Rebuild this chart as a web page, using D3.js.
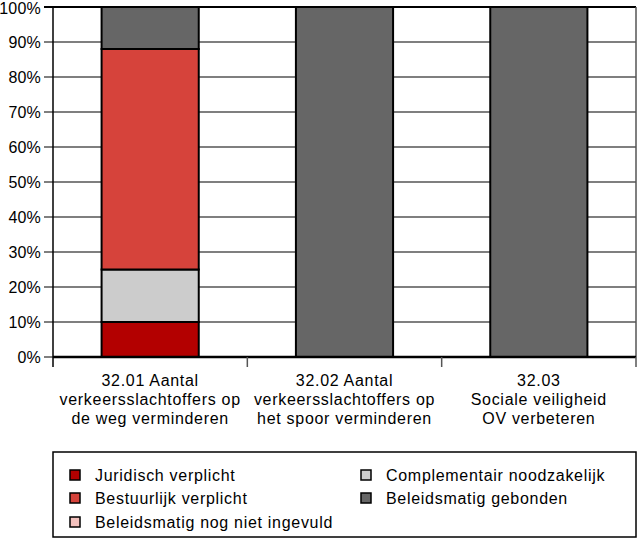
<!DOCTYPE html>
<html><head><meta charset="utf-8">
<script src="https://cdn.jsdelivr.net/npm/d3@7"></script>
<style>body{margin:0;background:#fff}svg{display:block;font-family:"Liberation Sans",Arial,sans-serif}text{letter-spacing:0.7px}text.yl{letter-spacing:0.2px}</style>
</head><body>
<svg id="c" width="638" height="549"></svg>
<script>
const categories = [
  ["32.01 Aantal","verkeersslachtoffers op","de weg verminderen"],
  ["32.02 Aantal","verkeersslachtoffers op","het spoor verminderen"],
  ["32.03","Sociale veiligheid","OV verbeteren"]
];
const seriesNames = ["Juridisch verplicht","Complementair noodzakelijk","Bestuurlijk verplicht","Beleidsmatig nog niet ingevuld","Beleidsmatig gebonden"];
const seriesColors = ["#b30000","#cccccc","#d6433b","#f3c1bd","#666666"];
const juridisch = [10,0,0];
const complementair = [15,0,0];
const bestuurlijk = [63,0,0];
const nogNiet = [0,0,0];
const gebonden = [12,100,100];
const yTicks = [0,10,20,30,40,50,60,70,80,90,100];
const legendOrder = [0,2,3,1,4];

const svg = d3.select("#c");
const L=53,R=636,T=7,B=357;
const x = d3.scaleBand().domain(d3.range(categories.length)).range([L,R]).paddingInner(0.5).paddingOuter(0.25);
const xb = d3.scaleBand().domain(d3.range(categories.length)).range([L,R]);
const y = d3.scaleLinear().domain([0,100]).range([B,T]);
const FS = 16;

// gridlines
svg.append("g").selectAll("line").data(yTicks.filter(d=>d>0)).join("line")
  .attr("x1",L-9).attr("x2",R).attr("y1",d=>y(d)).attr("y2",d=>y(d))
  .attr("stroke",d=>d===100?"#000":"#555").attr("stroke-width",d=>d===100?2:1.5);
svg.append("line").attr("x1",L-9).attr("x2",L).attr("y1",y(0)).attr("y2",y(0)).attr("stroke","#555").attr("stroke-width",1.5);

// stacks
const vals = [juridisch,complementair,bestuurlijk,nogNiet,gebonden];
const table = categories.map((c,i)=>{const o={i};seriesNames.forEach((s,k)=>o[s]=vals[k][i]);return o;});
const stack = d3.stack().keys(seriesNames)(table);
stack.forEach((layer,k)=>{
  svg.append("g").selectAll("rect").data(layer.filter(d=>d[1]-d[0]>0)).join("rect")
    .attr("x",d=>x(d.data.i)).attr("width",x.bandwidth())
    .attr("y",d=>y(d[1])).attr("height",d=>y(d[0])-y(d[1]))
    .attr("fill",seriesColors[k]).attr("stroke","#000").attr("stroke-width",2);
});

// axes lines
svg.append("line").attr("x1",L).attr("x2",L).attr("y1",T).attr("y2",B+10).attr("stroke","#000").attr("stroke-width",1.5);
svg.append("line").attr("x1",R).attr("x2",R).attr("y1",T).attr("y2",B).attr("stroke","#555").attr("stroke-width",1.5);
svg.append("line").attr("x1",L).attr("x2",R).attr("y1",B).attr("y2",B).attr("stroke","#000").attr("stroke-width",2.5);
svg.append("g").selectAll("line").data(d3.range(1,categories.length+1)).join("line")
  .attr("x1",d=>d<categories.length?xb(d):R).attr("x2",d=>d<categories.length?xb(d):R)
  .attr("y1",B).attr("y2",B+10).attr("stroke","#555").attr("stroke-width",1.5);

// y labels
svg.append("g").selectAll("text").data(yTicks).join("text").attr("class","yl")
  .attr("x",L-12).attr("y",d=>Math.max(y(d)+5.5,13.5)).attr("text-anchor","end")
  .attr("font-size",FS).attr("fill","#000").text(d=>d+"%");

// x labels
const xl = svg.append("g").selectAll("text").data(categories).join("text")
  .attr("text-anchor","middle").attr("font-size",FS).attr("fill","#000");
xl.each(function(lines,i){
  d3.select(this).selectAll("tspan").data(lines).join("tspan")
    .attr("x",xb(i)+xb.bandwidth()/2).attr("y",(d,j)=>386+j*19).text(d=>d);
});

// legend
svg.append("rect").attr("x",L).attr("y",452).attr("width",R-L).attr("height",85)
  .attr("fill","#fff").attr("stroke","#000").attr("stroke-width",1.5);
const pos = [[70,475],[70,498],[70,522],[361,475],[361,498]];
legendOrder.forEach((k,j)=>{
  const [px,py]=pos[j];
  svg.append("rect").attr("x",px).attr("y",py-5).attr("width",10).attr("height",10)
    .attr("fill",seriesColors[k]).attr("stroke","#000").attr("stroke-width",1.5);
  svg.append("text").attr("x",px+25).attr("y",py+5.5).attr("font-size",FS).attr("fill","#000").text(seriesNames[k]);
});
</script>
</body></html>
